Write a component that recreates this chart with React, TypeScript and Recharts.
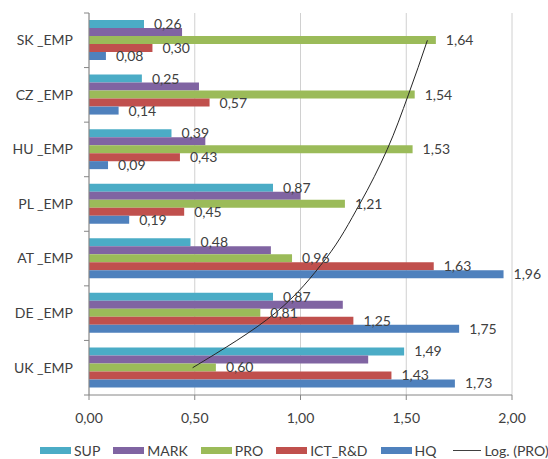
import React from "react";
import {
  ComposedChart,
  Bar,
  Line,
  XAxis,
  YAxis,
  CartesianGrid,
  Legend,
  LabelList,
} from "recharts";

const categories = ["SK _EMP", "CZ _EMP", "HU _EMP", "PL _EMP", "AT _EMP", "DE _EMP", "UK _EMP"];
const sup = [0.26, 0.25, 0.39, 0.87, 0.48, 0.87, 1.49];
const mark = [0.44, 0.52, 0.55, 1.0, 0.86, 1.2, 1.32];
const pro = [1.64, 1.54, 1.53, 1.21, 0.96, 0.81, 0.6];
const ict = [0.3, 0.57, 0.43, 0.45, 1.63, 1.25, 1.43];
const hq = [0.08, 0.14, 0.09, 0.19, 1.96, 1.75, 1.73];
// log trendline of PRO at each category centre
const proTrend = [1.6, 1.51, 1.41, 1.28, 1.12, 0.88, 0.49];
const xTicks = [0, 0.5, 1, 1.5, 2];

const data = categories.map((name, i) => ({
  name,
  SUP: sup[i],
  MARK: mark[i],
  PRO: pro[i],
  ICT: ict[i],
  HQ: hq[i],
  trend: proTrend[i],
}));

const series = [
  { key: "SUP", label: "SUP", color: "#4BACC6", labels: true },
  { key: "MARK", label: "MARK", color: "#8064A2", labels: false },
  { key: "PRO", label: "PRO", color: "#9BBB59", labels: true },
  { key: "ICT", label: "ICT_R&D", color: "#C0504D", labels: true },
  { key: "HQ", label: "HQ", color: "#4F81BD", labels: true },
];

const W = 548;
const H = 459;
const TOP = 13;
const AXIS_X = 89;
const PLOT_BOTTOM = 395;
const band = (PLOT_BOTTOM - TOP) / categories.length;
const textColor = "#404040";
const axisColor = "#868686";

const fmt = (v: any) => Number(v).toFixed(2).replace(".", ",");

// category label at centre, tick marks at the band edges like Excel
const CategoryTick = (props: any) => {
  const { y, payload, index } = props;
  return (
    <g>
      <line x1={AXIS_X - 5} x2={AXIS_X} y1={y - band / 2} y2={y - band / 2} stroke={axisColor} />
      {index === categories.length - 1 && (
        <line x1={AXIS_X - 5} x2={AXIS_X} y1={y + band / 2} y2={y + band / 2} stroke={axisColor} />
      )}
      <text x={73} y={y} dy="0.35em" textAnchor="end" fill={textColor} fontSize={14}>
        {payload.value}
      </text>
    </g>
  );
};

const LegendContent = () => (
  <div
    style={{
      display: "flex",
      alignItems: "center",
      boxSizing: "border-box",
      height: 34,
      paddingTop: 16,
      paddingLeft: 40,
      fontSize: 14,
      color: textColor,
      whiteSpace: "nowrap",
      width: W,
    }}
  >
    {series.map((s) => (
      <div key={s.key} style={{ display: "flex", alignItems: "center", marginRight: 13 }}>
        <span style={{ display: "inline-block", width: 31, height: 7, background: s.color, marginRight: 3 }} />
        <span>{s.label}</span>
      </div>
    ))}
    <div style={{ display: "flex", alignItems: "center", marginLeft: 4 }}>
      <span style={{ display: "inline-block", width: 28, height: 1, background: "#404040", marginRight: 3 }} />
      <span>Log. (PRO)</span>
    </div>
  </div>
);

export default function App() {
  return (
    <div style={{ position: "absolute", left: 0, top: 0, width: W, height: H, background: "#fff", fontFamily: "Lato" }}>
      <ComposedChart
        width={W}
        height={H}
        data={data}
        layout="vertical"
        margin={{ top: TOP, right: 36, left: 0, bottom: 0 }}
        barCategoryGap={7}
        barGap={0}
      >
        <CartesianGrid horizontal={false} stroke="#d0d0d0" />
        <XAxis
          type="number"
          domain={[0, 2]}
          ticks={xTicks}
          tickFormatter={fmt}
          height={30}
          tickSize={5}
          tickMargin={13}
          stroke={axisColor}
          tick={{ fill: textColor, fontSize: 14 }}
        />
        <YAxis
          type="category"
          dataKey="name"
          width={AXIS_X}
          tickLine={false}
          stroke={axisColor}
          tick={<CategoryTick />}
        />
        {series.map((s) => (
          <Bar key={s.key} dataKey={s.key} name={s.label} fill={s.color} isAnimationActive={false}>
            {s.labels && (
              <LabelList dataKey={s.key} position="right" offset={10} formatter={fmt} fill={textColor} fontSize={14} />
            )}
          </Bar>
        ))}
        <Line
          dataKey="trend"
          name="Log. (PRO)"
          type="monotone"
          stroke="#262626"
          strokeWidth={1}
          dot={false}
          isAnimationActive={false}
        />
        <Legend
          verticalAlign="bottom"
          wrapperStyle={{ left: 0, width: W }}
          content={<LegendContent />}
        />
      </ComposedChart>
    </div>
  );
}
